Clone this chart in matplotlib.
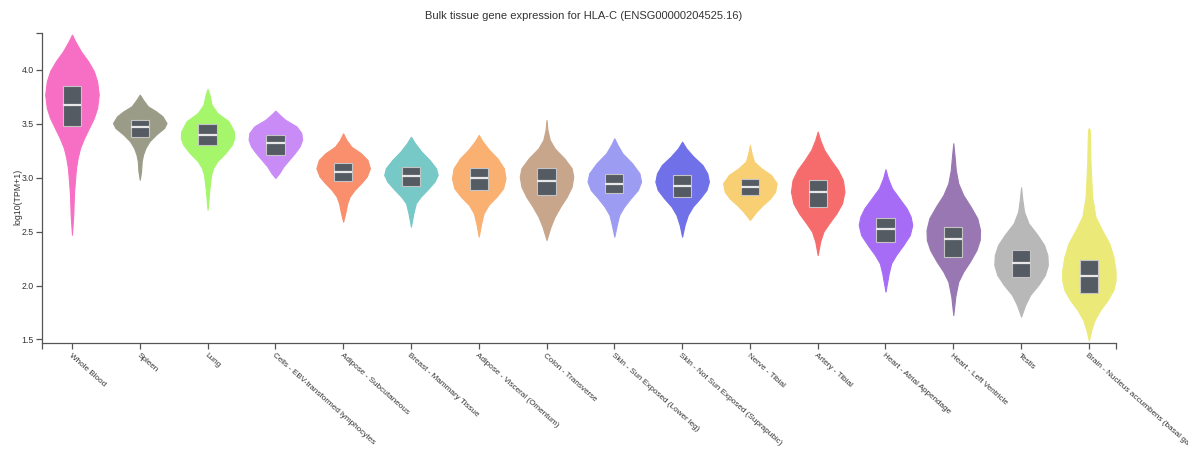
import numpy as np
import matplotlib
matplotlib.use("Agg")
import matplotlib.pyplot as plt

plt.rcParams['font.family'] = ['Liberation Sans', 'DejaVu Sans']

tissues = ["Whole Blood", "Spleen", "Lung", "Cells - EBV-transformed lymphocytes",
           "Adipose - Subcutaneous", "Breast - Mammary Tissue", "Adipose - Visceral (Omentum)",
           "Colon - Transverse", "Skin - Sun Exposed (Lower leg)", "Skin - Not Sun Exposed (Suprapubic)",
           "Nerve - Tibial", "Artery - Tibial", "Heart - Atrial Appendage", "Heart - Left Ventricle",
           "Testis", "Brain - Nucleus accumbens (basal ganglia)"]

colors = ["#f76fc4", "#9b9c88", "#a6f66c", "#c98cf7", "#f98f6d", "#77c9c7", "#f9b071", "#c8a68c",
          "#9d9cf3", "#7070e8", "#f8cf73", "#f66c6c", "#a66cf5", "#9877b2", "#b8b8b8", "#ebea79"]

q1 = [3.477, 3.376, 3.301, 3.215, 2.973, 2.924, 2.887, 2.840, 2.856, 2.825, 2.840, 2.732,
      2.407, 2.262, 2.083, 1.928]
medians = [3.678, 3.471, 3.394, 3.323, 3.057, 3.017, 2.995, 2.973, 2.942, 2.924, 2.911, 2.871,
           2.522, 2.432, 2.207, 2.092]
q3 = [3.848, 3.539, 3.499, 3.394, 3.140, 3.103, 3.094, 3.088, 3.032, 3.026, 2.989, 2.979,
      2.624, 2.540, 2.330, 2.237]

# violin outlines: log10(TPM+1) levels and relative widths
profile_vals = [
    [4.328, 4.266, 4.173, 4.080, 3.988, 3.895, 3.771, 3.648, 3.555, 3.462, 3.369, 3.277, 3.184,
     3.091, 2.967, 2.844, 2.658, 2.472],
    [3.771, 3.724, 3.663, 3.617, 3.570, 3.508, 3.462, 3.400, 3.339, 3.276, 3.214, 3.153, 3.060, 2.982],
    [3.824, 3.771, 3.678, 3.601, 3.524, 3.431, 3.369, 3.307, 3.230, 3.153, 3.091, 3.029, 2.905, 2.704],
    [3.623, 3.586, 3.539, 3.477, 3.416, 3.354, 3.292, 3.230, 3.168, 3.106, 3.045, 2.998],
    [3.412, 3.351, 3.289, 3.227, 3.165, 3.088, 3.011, 2.949, 2.887, 2.825, 2.763, 2.686, 2.593],
    [3.381, 3.320, 3.242, 3.165, 3.088, 3.026, 2.964, 2.887, 2.825, 2.763, 2.670, 2.547],
    [3.397, 3.335, 3.258, 3.180, 3.088, 2.995, 2.902, 2.825, 2.748, 2.670, 2.578, 2.454],
    [3.536, 3.443, 3.351, 3.273, 3.180, 3.088, 3.010, 2.918, 2.825, 2.732, 2.639, 2.547, 2.423],
    [3.366, 3.304, 3.227, 3.134, 3.041, 2.964, 2.887, 2.809, 2.732, 2.655, 2.562, 2.454],
    [3.335, 3.273, 3.196, 3.119, 3.041, 2.964, 2.887, 2.809, 2.732, 2.655, 2.562, 2.454],
    [3.304, 3.227, 3.150, 3.088, 3.026, 2.949, 2.871, 2.809, 2.748, 2.686, 2.609],
    [3.428, 3.351, 3.258, 3.165, 3.072, 2.979, 2.871, 2.763, 2.670, 2.578, 2.500, 2.408, 2.284],
    [3.079, 2.995, 2.902, 2.809, 2.717, 2.639, 2.562, 2.469, 2.377, 2.284, 2.207, 2.114, 1.944],
    [3.320, 3.196, 3.072, 2.949, 2.840, 2.732, 2.624, 2.516, 2.423, 2.330, 2.222, 2.129, 2.036,
     1.897, 1.727],
    [2.912, 2.794, 2.686, 2.578, 2.469, 2.377, 2.284, 2.191, 2.098, 2.006, 1.913, 1.820, 1.712],
    [3.462, 3.443, 3.300, 3.134, 2.825, 2.640, 2.516, 2.392, 2.268, 2.145, 2.052, 1.959, 1.866,
     1.774, 1.681, 1.588, 1.489],
]
profile_widths = [
    [0, 20, 55, 100, 135, 155, 165, 155, 135, 105, 75, 50, 35, 25, 18, 12, 8, 0],
    [0, 20, 50, 100, 140, 165, 150, 100, 60, 35, 20, 12, 8, 0],
    [0, 12, 25, 60, 130, 162, 165, 150, 110, 60, 35, 22, 12, 0],
    [0, 25, 60, 130, 160, 165, 150, 120, 85, 50, 25, 0],
    [0, 20, 50, 110, 150, 165, 145, 110, 70, 40, 25, 15, 0],
    [0, 25, 65, 115, 155, 165, 145, 100, 60, 30, 15, 0],
    [0, 25, 65, 115, 155, 165, 150, 110, 60, 30, 15, 0],
    [0, 6, 20, 50, 110, 155, 165, 155, 125, 85, 50, 25, 0],
    [0, 20, 50, 110, 155, 165, 145, 100, 60, 30, 15, 0],
    [0, 25, 70, 125, 155, 165, 150, 110, 65, 35, 15, 0],
    [0, 10, 25, 70, 130, 165, 155, 125, 80, 40, 0],
    [0, 15, 40, 80, 125, 155, 165, 150, 115, 70, 35, 15, 0],
    [0, 15, 40, 85, 130, 155, 165, 150, 110, 65, 35, 20, 0],
    [0, 8, 15, 30, 60, 105, 145, 162, 160, 140, 100, 60, 30, 12, 0],
    [0, 8, 18, 45, 100, 140, 160, 163, 145, 105, 55, 25, 0],
    [0, 5, 8, 10, 20, 40, 80, 125, 150, 163, 164, 150, 115, 70, 35, 15, 0],
]

positions = np.arange(len(tissues))

fig = plt.figure(figsize=(11.88, 4.49), dpi=100)
ax = fig.add_axes([42 / 1188, 106 / 449, 1074 / 1188, 310 / 449])

vpstats = []
for i in range(len(tissues)):
    vpstats.append({"coords": np.array(profile_vals[i]), "vals": np.array(profile_widths[i], float),
                    "mean": medians[i], "median": medians[i],
                    "min": min(profile_vals[i]), "max": max(profile_vals[i])})

parts = ax.violin(vpstats, positions=positions, widths=0.79,
                  showmeans=False, showextrema=False, showmedians=False)
for body, c in zip(parts["bodies"], colors):
    body.set_facecolor(c)
    body.set_edgecolor(c)
    body.set_alpha(1)
    body.set_linewidth(0.8)

q1a = np.array(q1)
q3a = np.array(q3)
ax.bar(positions, q3a - q1a, bottom=q1a, width=0.27, color="#555b63",
       edgecolor="#c4c4c4", linewidth=0.8, zorder=3)
ax.hlines(medians, positions - 0.135, positions + 0.135, color="#e8e8e8", lw=1.6, zorder=4)

ax.set_xlim(-0.442, 15.40)
ax.set_ylim(1.4675, 4.343)
ax.set_yticks([1.5, 2.0, 2.5, 3.0, 3.5, 4.0])
ax.set_yticklabels(["1.5", "2.0", "2.5", "3.0", "3.5", "4.0"])
ax.set_xticks(positions)
ax.set_xticklabels(tissues, rotation=-41.5, ha="left", va="top", rotation_mode="anchor")
ax.set_xticks([-0.442, 15.40], minor=True)
ax.set_yticks([4.343], minor=True)
ax.tick_params(which="both", length=4, width=0.9, color="#555555", labelcolor="#333333", pad=2)
ax.tick_params(axis="y", labelsize=6.3)
ax.tick_params(axis="x", which="major", labelsize=5.9, pad=2.5)

for s in ["top", "right"]:
    ax.spines[s].set_visible(False)
for s in ["left", "bottom"]:
    ax.spines[s].set_color("#555555")
    ax.spines[s].set_linewidth(0.9)

ax.set_ylabel("log10(TPM+1)", fontsize=6.3, color="#333333")
ax.yaxis.set_label_coords(-20 / 1074, 0.47)

fig.text(584 / 1188, 1 - 16 / 449, "Bulk tissue gene expression for HLA-C (ENSG00000204525.16)",
         ha="center", va="center", fontsize=8, color="#333333")

fig.savefig("out.png", dpi=100)
